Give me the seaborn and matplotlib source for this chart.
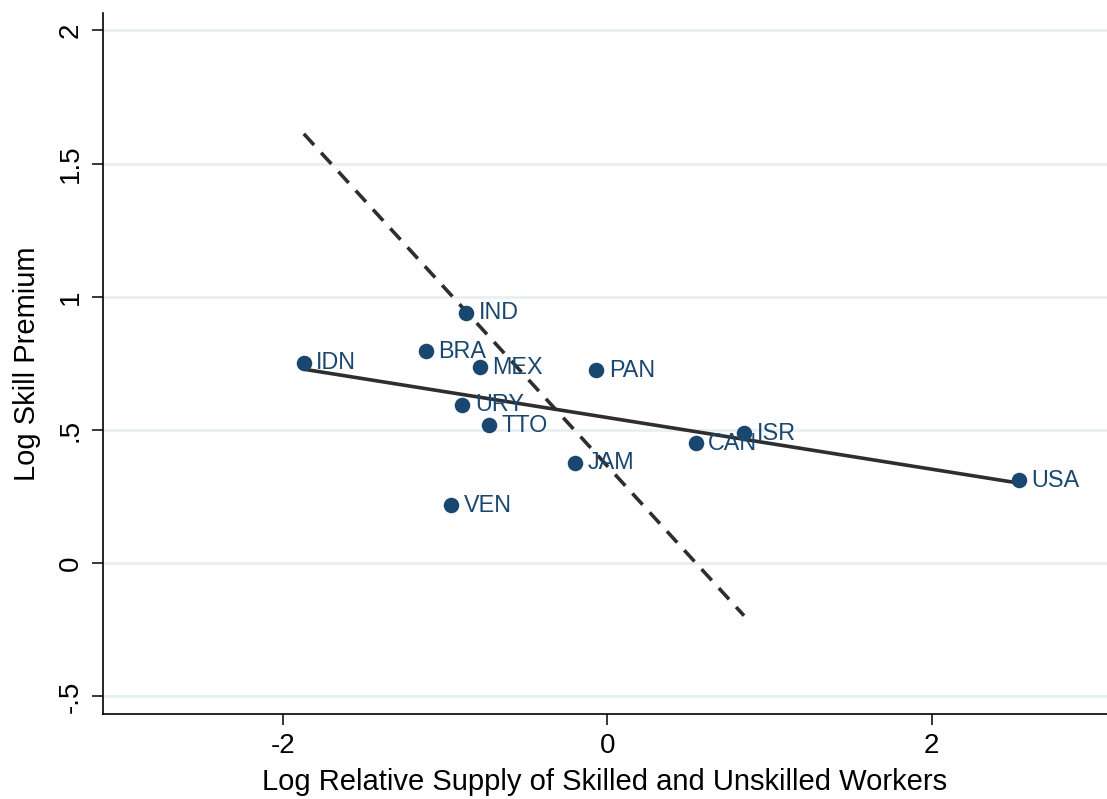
import numpy as np
import pandas as pd
import matplotlib
matplotlib.use("Agg")
import matplotlib.pyplot as plt
import seaborn as sns

# Country codes and log values
countries = ["IDN", "BRA", "IND", "MEX", "PAN", "URY", "TTO", "JAM", "VEN", "CAN", "ISR", "USA"]
log_supply = [-1.870, -1.118, -0.868, -0.785, -0.068, -0.893, -0.730, -0.196, -0.960, 0.544, 0.843, 2.535]
log_premium = [0.753, 0.796, 0.940, 0.735, 0.724, 0.595, 0.518, 0.377, 0.218, 0.450, 0.488, 0.312]

# Benchmark line with elasticity of substitution 1.5
sigma = 1.5
benchmark_intercept = 0.365

yticks = [-0.5, 0, 0.5, 1, 1.5, 2]
ytick_labels = ["-.5", "0", ".5", "1", "1.5", "2"]
xticks = [-2, 0, 2]
xtick_labels = ["-2", "0", "2"]

df = pd.DataFrame({"country": countries, "supply": log_supply, "premium": log_premium})

sns.set_style("white")
plt.rcParams["font.family"] = ["Liberation Sans", "DejaVu Sans"]
plt.rcParams["text.color"] = "black"
plt.rcParams["axes.labelcolor"] = "black"
plt.rcParams["xtick.color"] = "black"
plt.rcParams["ytick.color"] = "black"

navy = "#1a476f"
line_col = "#2e2e2e"

fig = plt.figure(figsize=(11.07, 7.99), dpi=100)
ax = fig.add_axes([0.093, 0.1064, 0.907, 0.8773])

# horizontal grid
for yv in yticks:
    ax.axhline(yv, color="#e8f0f2", lw=2.0, zorder=0)

# fitted OLS line
sns.regplot(data=df, x="supply", y="premium", scatter=False, ci=None, truncate=True,
            color=line_col, line_kws={"lw": 2.6, "zorder": 2}, ax=ax)

# benchmark dashed line over the non-US range
xs = np.sort(df["supply"].values)
bx = np.array([xs[0], xs[-2]])
by = benchmark_intercept - bx / sigma
ax.plot(bx, by, color=line_col, lw=2.6, dashes=(4.2, 2.9), zorder=2)

sns.scatterplot(data=df, x="supply", y="premium", color=navy, s=125, edgecolor=navy,
                linewidth=0, zorder=3, ax=ax)

for c, xv, yv in zip(countries, log_supply, log_premium):
    ax.annotate(c, (xv, yv), xytext=(9, 0), textcoords="offset points",
                ha="left", va="center", color=navy, fontsize=16.8, zorder=4)

ax.set_xlim(-3.108, 3.08)
ax.set_ylim(-0.566, 2.065)
ax.set_xticks(xticks)
ax.set_xticklabels(xtick_labels, fontsize=20)
ax.set_yticks(yticks)
ax.set_yticklabels(ytick_labels, fontsize=20, rotation=90, va="center")
ax.tick_params(axis="both", direction="out", length=8, width=1.1, colors="black", pad=6,
               left=True, bottom=True)

ax.set_xlabel("Log Relative Supply of Skilled and Unskilled Workers", fontsize=21, labelpad=6)
ax.set_ylabel("Log Skill Premium", fontsize=21, labelpad=12)

for side in ["top", "right"]:
    ax.spines[side].set_visible(False)
for side in ["left", "bottom"]:
    ax.spines[side].set_color("black")
    ax.spines[side].set_linewidth(1.2)

fig.savefig("out.png", dpi=100)
